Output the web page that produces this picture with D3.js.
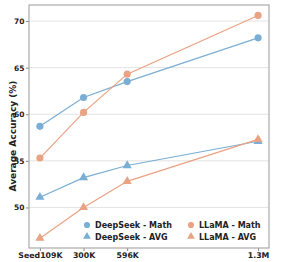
<!DOCTYPE html>
<html>
<head>
<meta charset="utf-8">
<script src="https://cdn.jsdelivr.net/npm/d3@7"></script>
<style>
  body { margin: 0; background: #fff; }
</style>
</head>
<body>
<svg id="chart" width="299" height="262"></svg>
<script>
// data
const xSteps = [0, 1, 2, 5];
const xLabels = ["Seed109K", "300K", "596K", "1.3M"];
const deepseekMath = [58.7, 61.8, 63.5, 68.2];
const llamaMath = [55.3, 60.2, 64.3, 70.6];
const deepseekAvg = [51.1, 53.2, 54.5, 57.1];
const llamaAvg = [46.7, 50.0, 52.8, 57.3];
const yTicks = [50, 55, 60, 65, 70];

const blue = "#7aaed4";
const orange = "#e9a283";
const font = "DejaVu Sans";

const series = [
    { name: "DeepSeek - Math", values: deepseekMath, color: blue, shape: d3.symbolCircle },
    { name: "DeepSeek - AVG", values: deepseekAvg, color: blue, shape: d3.symbolTriangle },
    { name: "LLaMA - Math", values: llamaMath, color: orange, shape: d3.symbolCircle },
    { name: "LLaMA - AVG", values: llamaAvg, color: orange, shape: d3.symbolTriangle }
];

const svg = d3.select("#chart");
const margin = { top: 5, right: 30, bottom: 14, left: 29 };
const width = 299, height = 262;

const x = d3.scaleLinear().domain([-0.25, 5.25]).range([margin.left, width - margin.right]);
const y = d3.scaleLinear().domain([45.65, 71.72]).range([height - margin.bottom, margin.top]);

function styleText(sel, size) {
    sel.attr("font-family", font)
        .attr("font-weight", "bold")
        .attr("font-size", size)
        .attr("fill", "#222");
}

// grid
svg.append("g")
    .selectAll("line")
    .data(yTicks)
    .enter().append("line")
    .attr("x1", margin.left)
    .attr("x2", width - margin.right)
    .attr("y1", d => y(d))
    .attr("y2", d => y(d))
    .attr("stroke", "#e3e3e3")
    .attr("stroke-width", 1);

// axes
const yAxis = svg.append("g")
    .attr("transform", `translate(${margin.left},0)`)
    .call(d3.axisLeft(y).tickValues(yTicks).tickSize(3).tickPadding(1.5));
yAxis.select(".domain").remove();
yAxis.selectAll("line").attr("stroke", "#888");
yAxis.selectAll("text").call(styleText, 7.5);

const xAxis = svg.append("g")
    .attr("transform", `translate(0,${height - margin.bottom})`)
    .call(d3.axisBottom(x).tickValues(xSteps).tickFormat((d, i) => xLabels[i]).tickSize(3).tickPadding(1));
xAxis.select(".domain").remove();
xAxis.selectAll("line").attr("stroke", "#888");
xAxis.selectAll("text").call(styleText, 7.8);

// frame
svg.append("rect")
    .attr("x", margin.left)
    .attr("y", margin.top)
    .attr("width", width - margin.left - margin.right)
    .attr("height", height - margin.top - margin.bottom)
    .attr("fill", "none")
    .attr("stroke", "#aaa")
    .attr("stroke-width", 1.2);

// y title
svg.append("text")
    .attr("transform", "translate(16,136) rotate(-90)")
    .attr("text-anchor", "middle")
    .call(styleText, 9)
    .text("Average Accuracy (%)");

// lines and markers
const line = d3.line()
    .x((d, i) => x(xSteps[i]))
    .y(d => y(d));

series.forEach(s => {
    svg.append("path")
        .datum(s.values)
        .attr("fill", "none")
        .attr("stroke", s.color)
        .attr("stroke-width", 1.2)
        .attr("d", line);

    svg.append("g")
        .selectAll("path")
        .data(s.values)
        .enter().append("path")
        .attr("transform", (d, i) => `translate(${x(xSteps[i])},${y(d)})`)
        .attr("d", d3.symbol().type(s.shape).size(s.shape === d3.symbolCircle ? 40 : 36))
        .attr("fill", s.color);
});

// legend, two columns
const legendItems = [series[0], series[2], series[1], series[3]];
const legend = svg.append("g");
legendItems.forEach((s, i) => {
    const col = i % 2, row = Math.floor(i / 2);
    const lx = 87 + col * 104, ly = 225 + row * 11.5;
    legend.append("path")
        .attr("transform", `translate(${lx},${ly})`)
        .attr("d", d3.symbol().type(s.shape).size(s.shape === d3.symbolCircle ? 30 : 26))
        .attr("fill", s.color);
    legend.append("text")
        .attr("x", lx + 8)
        .attr("y", ly + 3)
        .call(styleText, 8)
        .text(s.name);
});
</script>
</body>
</html>
